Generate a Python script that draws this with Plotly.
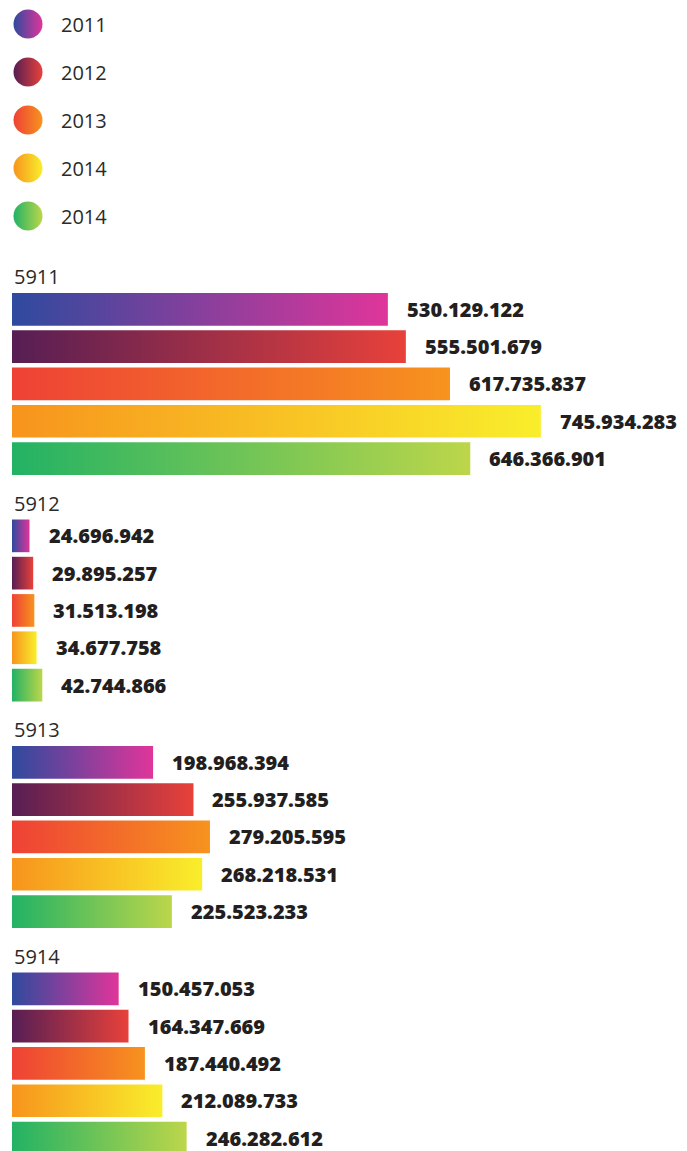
import plotly.graph_objects as go

# ---- data ----
categories = ["5911", "5912", "5913", "5914"]
series_names = ["2011", "2012", "2013", "2014", "2014"]
v2011 = [530129122, 24696942, 198968394, 150457053]
v2012 = [555501679, 29895257, 255937585, 164347669]
v2013 = [617735837, 31513198, 279205595, 187440492]
v2014a = [745934283, 34677758, 268218531, 212089733]
v2014b = [646366901, 42744866, 225523233, 246282612]
series_values = [v2011, v2012, v2013, v2014a, v2014b]

# gradient colours (left -> right) per series
grad_left = ["#2E4A9E", "#561E54", "#EE4136", "#F7941D", "#22B264"]
grad_right = ["#E0359A", "#E8413A", "#F7931E", "#F9EE2B", "#BCD64A"]

# ---- layout constants (page pixels) ----
PAGE_W, PAGE_H = 687, 1151
OFF = 8                     # default body margin of the page
W, H = PAGE_W - OFF, PAGE_H - OFF
X0_PX = 12 - OFF            # where value 0 sits (figure pixels)
PX_PER_UNIT = 0.709e-6
FIRST_BAR_TOP = 293 - OFF
GROUP_PITCH = 226.5
BAR_PITCH = 37.3
BAR_H = 32.7
LEG_Y0, LEG_DY = 24 - OFF, 48
LEG_CX = 28 - OFF
LEG_TX = 59 - OFF
CAT_X = 12 - OFF

def fmt(v):
    return f"{v:,}".replace(",", ".")

fig = go.Figure()
annotations = []

for g, cat in enumerate(categories):
    top_g = FIRST_BAR_TOP + g * GROUP_PITCH
    annotations.append(dict(
        x=CAT_X, y=top_g - 16.5, xref="x2", yref="y", text=cat, showarrow=False,
        xanchor="left", yanchor="middle",
        font=dict(family="Open Sans", size=20, color="#2a2a2a")))
    for i, (name, vals) in enumerate(zip(series_names, series_values)):
        v = vals[g]
        y_top = top_g + i * BAR_PITCH
        y_bot = y_top + BAR_H
        fig.add_trace(go.Scatter(
            x=[0, v, v, 0, 0], y=[y_top, y_top, y_bot, y_bot, y_top],
            mode="lines", line=dict(width=0), fill="toself",
            fillgradient=dict(type="horizontal",
                              colorscale=[[0, grad_left[i]], [1, grad_right[i]]]),
            hoverinfo="skip", showlegend=False, xaxis="x", yaxis="y"))
        annotations.append(dict(
            x=v, y=(y_top + y_bot) / 2, xref="x", yref="y", text=fmt(v),
            showarrow=False, xanchor="left", yanchor="middle", xshift=17,
            font=dict(family="Open Sans", size=20, color="#231F20", weight=800)))

# legend as drawn markers + text
leg_y = [LEG_Y0 + k * LEG_DY for k in range(len(series_names))]
fig.add_trace(go.Scatter(
    x=[LEG_CX] * len(series_names), y=leg_y, mode="markers",
    marker=dict(size=29, color=grad_left, line=dict(width=0),
                gradient=dict(type="horizontal", color=grad_right)),
    hoverinfo="skip", showlegend=False, xaxis="x2", yaxis="y"))
for name, yy in zip(series_names, leg_y):
    annotations.append(dict(
        x=LEG_TX, y=yy, xref="x2", yref="y", text=name, showarrow=False,
        xanchor="left", yanchor="middle",
        font=dict(family="Open Sans", size=20, color="#2a2a2a")))

x_min = -X0_PX / PX_PER_UNIT
x_max = (W - X0_PX) / PX_PER_UNIT

fig.update_layout(
    width=W, height=H,
    margin=dict(l=0, r=0, t=0, b=0),
    paper_bgcolor="white", plot_bgcolor="white",
    xaxis=dict(range=[x_min, x_max], visible=False, fixedrange=True),
    xaxis2=dict(range=[0, W], visible=False, overlaying="x", fixedrange=True),
    yaxis=dict(range=[H, 0], visible=False, fixedrange=True),
    annotations=annotations,
    showlegend=False,
)

fig.write_html("out.html")
